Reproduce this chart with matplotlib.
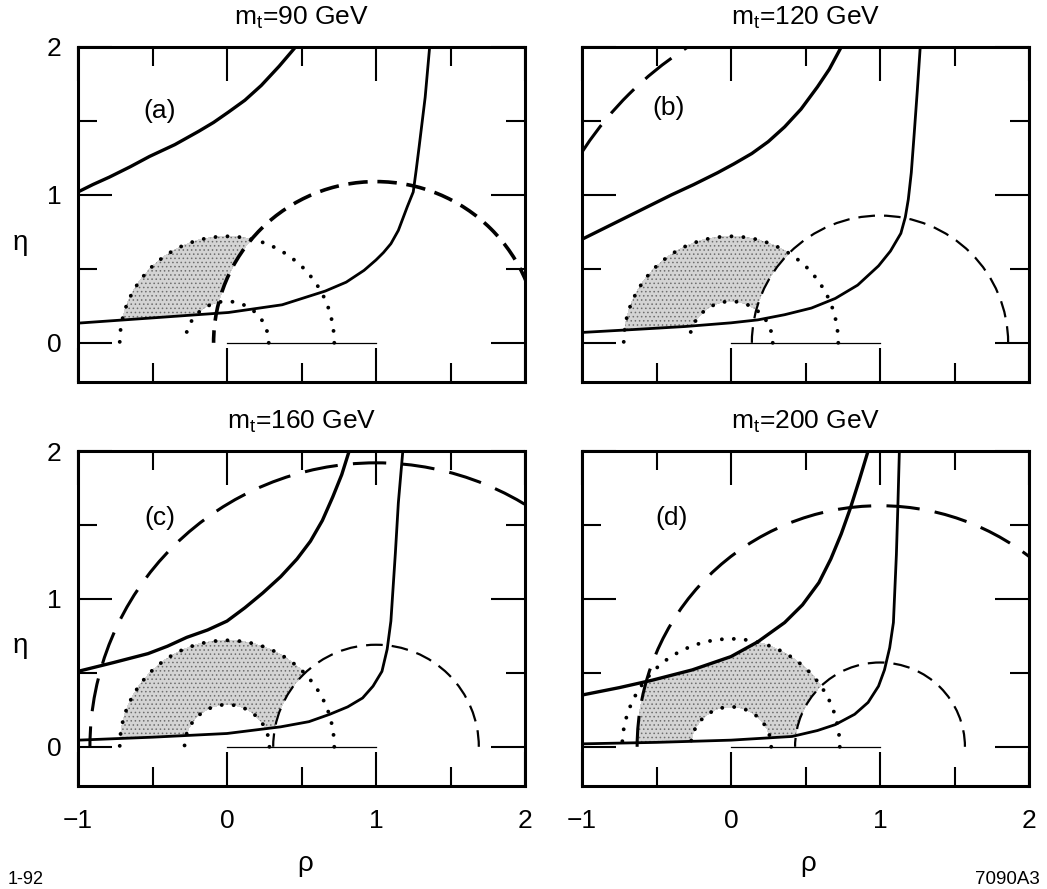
import numpy as np
import matplotlib.pyplot as plt
from matplotlib.patches import Arc

plt.rcParams['font.family'] = ['Liberation Sans', 'DejaVu Sans']
plt.rcParams['mathtext.default'] = 'regular'
plt.rcParams['lines.scale_dashes'] = False
plt.rcParams['hatch.color'] = '#6e6e6e'
plt.rcParams['hatch.linewidth'] = 0.6

# top quark mass of each panel (GeV)
mt_values = [90, 120, 160, 200]
panel_tags = ['(a)', '(b)', '(c)', '(d)']

# upper solid curve (eps_K band)
upper_rho = [
    [-1.0, -0.9, -0.79, -0.65, -0.52, -0.35, -0.19, -0.09, 0.01, 0.12, 0.23, 0.35, 0.46],
    [-1.0, -0.88, -0.76, -0.64, -0.54, -0.4, -0.25, -0.09, 0.02, 0.14, 0.25, 0.36, 0.47,
     0.58, 0.66, 0.74],
    [-1.0, -0.88, -0.76, -0.53, -0.4, -0.27, -0.13, 0.0, 0.12, 0.24, 0.36, 0.47, 0.56,
     0.64, 0.71, 0.77, 0.82],
    [-1.0, -0.75, -0.53, -0.26, 0.0, 0.18, 0.36, 0.48, 0.59, 0.67, 0.74, 0.80, 0.86, 0.92],
]
upper_eta = [
    [1.02, 1.07, 1.12, 1.19, 1.26, 1.34, 1.43, 1.49, 1.56, 1.64, 1.74, 1.87, 2.0],
    [0.70, 0.76, 0.82, 0.88, 0.93, 1.0, 1.07, 1.15, 1.21, 1.28, 1.36, 1.46, 1.58,
     1.73, 1.85, 2.0],
    [0.51, 0.54, 0.57, 0.63, 0.68, 0.74, 0.79, 0.85, 0.94, 1.04, 1.15, 1.27, 1.39,
     1.53, 1.69, 1.84, 2.0],
    [0.35, 0.40, 0.45, 0.52, 0.61, 0.71, 0.84, 0.96, 1.11, 1.27, 1.44, 1.61, 1.80, 2.0],
]

# lower solid curve
lower_rho = [
    [-1.0, -0.52, 0.01, 0.37, 0.66, 0.8, 0.92, 1.0, 1.05, 1.10, 1.15, 1.18, 1.21, 1.25,
     1.27, 1.29, 1.33, 1.36],
    [-1.0, -0.65, -0.31, 0.0, 0.18, 0.36, 0.54, 0.70, 0.85, 0.99, 1.07, 1.14, 1.17,
     1.19, 1.21, 1.23, 1.25, 1.27],
    [-1.0, -0.5, 0.0, 0.36, 0.55, 0.69, 0.81, 0.91, 0.98, 1.04, 1.075, 1.10, 1.13,
     1.15, 1.18],
    [-1.0, -0.5, 0.0, 0.41, 0.58, 0.70, 0.83, 0.92, 0.99, 1.03, 1.065, 1.09, 1.11,
     1.12, 1.13],
]
lower_eta = [
    [0.133, 0.167, 0.205, 0.257, 0.35, 0.41, 0.49, 0.56, 0.61, 0.67, 0.76, 0.84, 0.92,
     1.02, 1.17, 1.33, 1.66, 2.0],
    [0.07, 0.09, 0.11, 0.135, 0.155, 0.19, 0.235, 0.30, 0.39, 0.52, 0.62, 0.74, 0.85,
     0.97, 1.15, 1.42, 1.7, 2.0],
    [0.045, 0.065, 0.09, 0.135, 0.17, 0.22, 0.27, 0.33, 0.41, 0.51, 0.66, 0.85, 1.31,
     1.65, 2.0],
    [0.02, 0.03, 0.045, 0.07, 0.11, 0.15, 0.22, 0.30, 0.41, 0.52, 0.67, 0.84, 1.30,
     1.63, 2.0],
]

# |Vub/Vcb| circles about (0,0): dotted
dotted_r_out = [0.72, 0.72, 0.72, 0.73]
dotted_r_in = [0.28, 0.28, 0.285, 0.27]
# B-Bbar mixing circles about (1,0): dashed
dashed_r_small = [1.09, 0.86, 0.69, 0.57]
dashed_r_big = [None, 2.38, 1.92, 1.63]

# base of the unitarity triangle
base_rho = [0.0, 1.0]
base_eta = [0.0, 0.0]

W, H = 1047, 889
lefts = [78, 582, 78, 582]
tops = [47, 47, 451, 451]
aw, ah = 447, 335
tag_pos = [(-0.45, 1.57), (-0.42, 1.59), (-0.45, 1.55), (-0.40, 1.55)]

fig = plt.figure(figsize=(W / 100, H / 100), dpi=100)

gx, gy = np.meshgrid(np.linspace(-1, 2, 1200), np.linspace(-0.27, 2, 900))
r0sq = gx ** 2 + gy ** 2
r1sq = (gx - 1) ** 2 + gy ** 2

for i in range(4):
    ax = fig.add_axes([lefts[i] / W, 1 - (tops[i] + ah) / H, aw / W, ah / H])
    ax.set_xlim(-1, 2)
    ax.set_ylim(-0.265, 2)

    # allowed region (shaded)
    ok = (r0sq < dotted_r_out[i] ** 2) & (r0sq > dotted_r_in[i] ** 2)
    ok &= r1sq > dashed_r_small[i] ** 2
    if dashed_r_big[i] is not None:
        ok &= r1sq < dashed_r_big[i] ** 2
    ok &= gy > np.interp(gx, lower_rho[i], lower_eta[i])
    ok &= gy < np.interp(gx, upper_rho[i], upper_eta[i])
    ax.contourf(gx, gy, ok.astype(float), levels=[0.5, 1.5],
                colors=['#d4d4d4'], hatches=['....'], zorder=1)

    ax.plot(upper_rho[i], upper_eta[i], color='k', lw=2.4, zorder=4)
    ax.plot(lower_rho[i], lower_eta[i], color='k', lw=2.0, zorder=4)
    ax.plot(base_rho, base_eta, color='k', lw=0.9, zorder=3)

    for r in (dotted_r_out[i], dotted_r_in[i]):
        ax.add_patch(Arc((0, 0), 2 * r, 2 * r, theta1=0, theta2=180,
                         edgecolor='k', lw=2.8, linestyle=(0, (0.01, 8.6)),
                         capstyle='round', zorder=3))
    if i == 0:
        ls_small, lw_small = (0, (14, 7)), 2.6
    else:
        ls_small, lw_small = (0, (12, 6.5)), 1.6
    ax.add_patch(Arc((1, 0), 2 * dashed_r_small[i], 2 * dashed_r_small[i],
                     theta1=0, theta2=180, edgecolor='k', lw=lw_small,
                     linestyle=ls_small, zorder=3))
    if dashed_r_big[i] is not None:
        ax.add_patch(Arc((1, 0), 2 * dashed_r_big[i], 2 * dashed_r_big[i],
                         theta1=0, theta2=180, edgecolor='k', lw=2.2,
                         linestyle=(0, (24, 11)), zorder=3))

    ax.set_xticks([-1, 0, 1, 2])
    ax.set_xticks([-0.5, 0.5, 1.5], minor=True)
    ax.set_yticks([0, 1, 2])
    ax.set_yticks([0.5, 1.5], minor=True)
    ax.tick_params(which='both', direction='in', top=True, right=True,
                   width=1.5, labelsize=19)
    ax.tick_params(which='major', length=24.5)
    ax.tick_params(which='minor', length=13.7)
    ax.tick_params(axis='x', pad=16.5, labelbottom=(i >= 2))
    ax.tick_params(axis='y', pad=12, labelleft=(i % 2 == 0))
    for s in ax.spines.values():
        s.set_linewidth(2.2)

    ax.set_title('m$_t$=%d GeV' % mt_values[i], fontsize=19, pad=16)
    ax.text(tag_pos[i][0], tag_pos[i][1], panel_tags[i], fontsize=19,
            ha='center', va='center')

# axis names
fig.text(20 / W, 1 - 250 / H, 'η', fontsize=20, ha='center', va='baseline')
fig.text(20 / W, 1 - 653 / H, 'η', fontsize=20, ha='center', va='baseline')
fig.text(305 / W, 1 - 871 / H, 'ρ', fontsize=20, ha='center', va='baseline')
fig.text(808 / W, 1 - 871 / H, 'ρ', fontsize=20, ha='center', va='baseline')
fig.text(8 / W, 1 - 884 / H, '1-92', fontsize=13, ha='left', va='baseline')
fig.text(1040 / W, 1 - 884 / H, '7090A3', fontsize=13.5, ha='right', va='baseline')

fig.savefig('out.png', dpi=100)
